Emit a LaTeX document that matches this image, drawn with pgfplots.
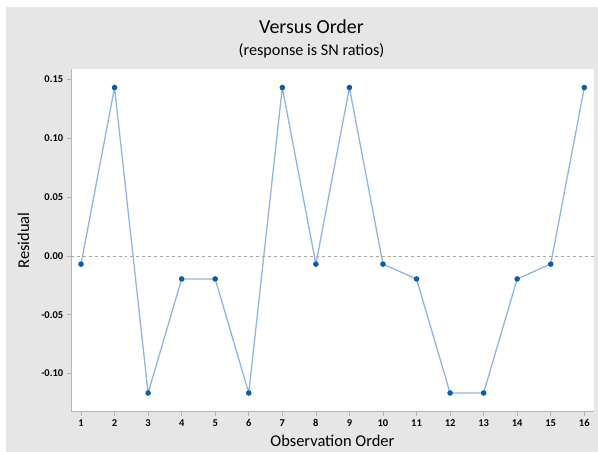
\documentclass[border=0pt]{standalone}
\usepackage{pgfplots}
\pgfplotsset{compat=1.18}
\usepackage{fontspec}
\setmainfont{Carlito}
\definecolor{bggrey}{HTML}{E6E6E6}
\definecolor{frame}{HTML}{B4B4B4}
\definecolor{linec}{HTML}{8FB6E2}
\definecolor{markc}{HTML}{0B5CAD}
\begin{document}
\begin{tikzpicture}[x=1bp,y=1bp]
\useasboundingbox (-70.7,-40.3) rectangle (527.3,411.7);
\fill[white] (-70.7,-40.3) rectangle (527.3,411.7);
\fill[bggrey] (-64.7,-40.3) rectangle (527.3,404.7);
\begin{axis}[
  at={(0,0)}, anchor=south west,
  scale only axis,
  width=523.3bp, height=342.7bp,
  xmin=0.693, xmax=16.29,
  ymin=-0.1324, ymax=0.1588,
  axis background/.style={fill=white},
  axis line style={frame},
  axis x line*=bottom, axis y line*=left,
  xtick={1,...,16},
  ytick={-0.10,-0.05,0,0.05,0.10,0.15},
  y tick label style={/pgf/number format/fixed,/pgf/number format/fixed zerofill,/pgf/number format/precision=2},
  x tick label style={font=\fontsize{10.5}{12}\selectfont\bfseries},
  y tick label style={font=\fontsize{10.5}{12}\selectfont\bfseries},
  /pgf/number format/assume math mode=true,
  tick align=outside,
  major tick length=4bp,
  tick style={frame, line width=0.6pt},
  xlabel={Observation Order},
  ylabel={Residual},
  xlabel style={font=\fontsize{16.5}{18}\selectfont, at={(axis description cs:0.5,0)}, anchor=north, yshift=-20bp},
  ylabel style={font=\fontsize{16.5}{18}\selectfont, at={(axis description cs:0,0.5)}, anchor=south, yshift=38bp},
  clip=false,
]
\addplot[gray!70, dashed, line width=0.6pt, forget plot] coordinates {(0.693,0) (16.29,0)};
\addplot[color=linec, line width=1.3pt, mark=*, mark size=2.1pt,
  mark options={fill=markc, draw=markc}] coordinates {
(1,-0.007) (2,0.143) (3,-0.1165) (4,-0.0196) (5,-0.0196) (6,-0.1165)
(7,0.143) (8,-0.007) (9,0.143) (10,-0.007) (11,-0.0196) (12,-0.1165)
(13,-0.1165) (14,-0.0196) (15,-0.007) (16,0.143)
};
\end{axis}
\node[font=\fontsize{20}{22}\selectfont, anchor=base] at (240.8,377.7) {Versus Order};
\node[font=\fontsize{16.3}{17}\selectfont, anchor=base] at (240.8,355.7) {(response is SN ratios)};
\end{tikzpicture}
\end{document}
